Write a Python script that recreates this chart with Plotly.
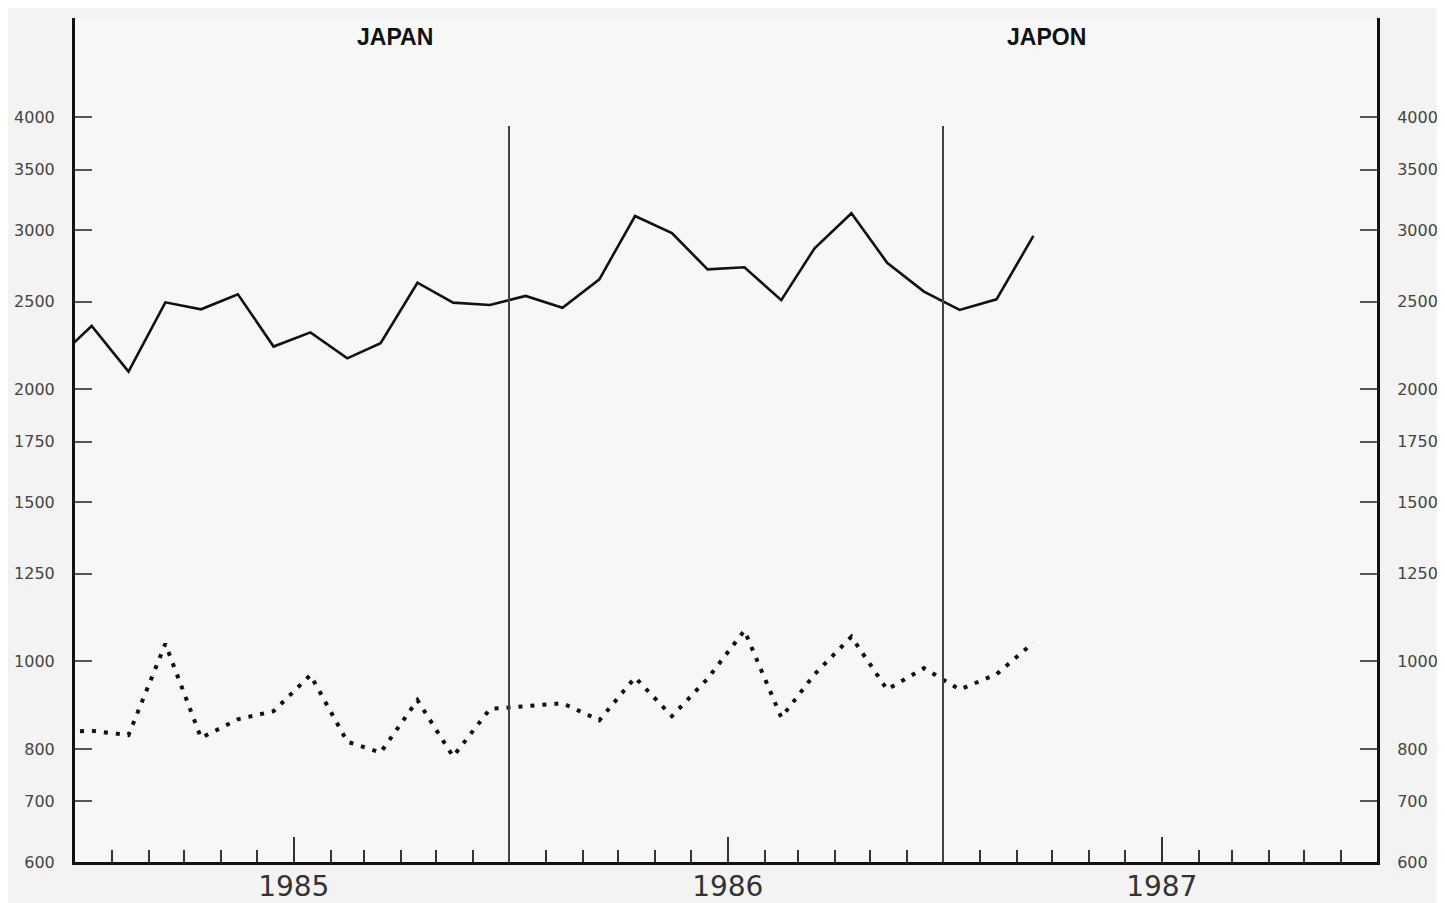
import math
import plotly.graph_objects as go

# ---- data ----
months = [
    "1984-06", "1984-07", "1984-08", "1984-09", "1984-10", "1984-11", "1984-12",
    "1985-01", "1985-02", "1985-03", "1985-04", "1985-05", "1985-06",
    "1985-07", "1985-08", "1985-09", "1985-10", "1985-11", "1985-12",
    "1986-01", "1986-02", "1986-03", "1986-04", "1986-05", "1986-06",
    "1986-07", "1986-08", "1986-09",
]
series_solid = [2157, 2350, 2092, 2496, 2452, 2548, 2230,
                2312, 2164, 2249, 2624, 2494, 2479, 2537, 2462, 2647, 3110, 2977, 2715,
                2729, 2510, 2865, 3132, 2761, 2565, 2448, 2515, 2956]
series_dotted = [836, 838, 829, 1046, 823, 863, 881,
                 966, 815, 793, 906, 785, 886, 892, 899, 861, 960, 870, 957,
                 1082, 867, 968, 1065, 931, 983, 931, 968, 1049]
y_tickvals = [600, 700, 800, 1000, 1250, 1500, 1750, 2000, 2500, 3000, 3500, 4000]
x_quarter_ticks = ["1984-07-01", "1984-10-01", "1985-01-01", "1985-04-01", "1985-07-01",
                   "1985-10-01", "1986-01-01", "1986-04-01", "1986-07-01", "1986-10-01",
                   "1987-01-01", "1987-04-01", "1987-07-01"]
x_quarter_text = ["", "", "1985", "", "", "", "1986", "", "", "", "1987", "", ""]
x_month_ticks = [f"{y}-{m:02d}-01" for y in (1984, 1985, 1986, 1987) for m in range(1, 13)
                 if "1984-07-01" <= f"{y}-{m:02d}-01" <= "1987-07-01"]
divider_dates = ["1985-07-01", "1986-07-01"]
titles = ["JAPAN", "JAPON"]

dates = [m + "-15" for m in months]

fig = go.Figure()
fig.add_trace(go.Scatter(x=dates, y=series_solid, mode="lines",
                         line=dict(color="#111111", width=2.6), showlegend=False))
fig.add_trace(go.Scatter(x=dates, y=series_dotted, mode="lines",
                         line=dict(color="#111111", width=4, dash="4px,8px"), showlegend=False))
fig.add_trace(go.Scatter(x=[dates[0]], y=[series_solid[0]], yaxis="y2", mode="markers",
                         marker=dict(opacity=0), showlegend=False, hoverinfo="skip"))

y_range = [math.log10(600), math.log10(600) + 844 / 904]
ytick_font = dict(family="DejaVu Sans", size=16, color="#444444")

common_y = dict(type="log", range=y_range, tickmode="array", tickvals=y_tickvals,
                ticktext=[str(v) for v in y_tickvals], showgrid=False, zeroline=False,
                showline=True, linecolor="#111111", linewidth=3,
                ticks="inside", ticklen=17, tickwidth=2, tickcolor="#555555",
                tickfont=ytick_font, automargin=False)

fig.update_layout(
    width=1437, height=895,
    autosize=False,
    margin=dict(l=67, r=68, t=10, b=41, autoexpand=False),
    paper_bgcolor="#f3f3f3",
    plot_bgcolor="#f7f7f7",
    xaxis=dict(type="date", range=["1984-07-01", "1987-07-01"], automargin=False,
               showline=True, linecolor="#111111", linewidth=3,
               showgrid=False, zeroline=False,
               tickmode="array", tickvals=x_quarter_ticks, ticktext=x_quarter_text,
               ticks="inside", ticklen=25, tickwidth=2, tickcolor="#333333",
               ticklabelstandoff=-3,
               tickfont=dict(family="DejaVu Sans", size=28, color="#333333"),
               minor=dict(tickmode="array", tickvals=x_month_ticks, ticks="inside",
                          ticklen=12, tickwidth=1.5, tickcolor="#333333", showgrid=False)),
    yaxis=dict(side="left", ticklabelstandoff=14, **common_y),
    yaxis2=dict(side="right", overlaying="y", ticklabelstandoff=14, **common_y),
    shapes=[dict(type="line", xref="x", yref="paper", x0=d, x1=d, y0=0, y1=0.872,
                 line=dict(color="#444444", width=2)) for d in divider_dates],
    annotations=[
        dict(text="<b>" + titles[0] + "</b>", xref="paper", yref="paper", x=0.2458, y=0.9775,
             showarrow=False, font=dict(family="Liberation Sans", size=23, color="#111111"),
             xanchor="center", yanchor="middle"),
        dict(text="<b>" + titles[1] + "</b>", xref="paper", yref="paper", x=0.7458, y=0.9775,
             showarrow=False, font=dict(family="Liberation Sans", size=23, color="#111111"),
             xanchor="center", yanchor="middle"),
    ],
)

fig.write_html("out.html")
